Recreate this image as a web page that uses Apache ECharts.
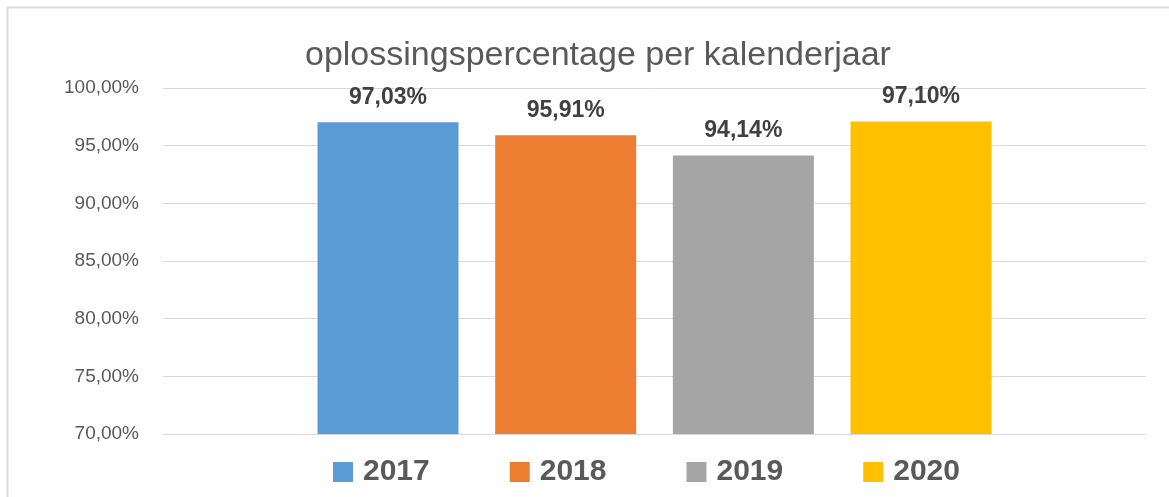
<!DOCTYPE html>
<html>
<head>
<meta charset="utf-8">
<script src="https://cdn.jsdelivr.net/npm/echarts@6/dist/echarts.min.js"></script>
<style>
  html, body { margin: 0; padding: 0; background: #fff; }
  #chart { width: 1169px; height: 497px; }
</style>
</head>
<body>
<div id="chart"></div>
<script>
// jaren en oplossingspercentages
var years = ['2017', '2018', '2019', '2020'];
var values = [97.03, 95.91, 94.14, 97.10];
var colors = ['#5b9bd5', '#ed7d31', '#a5a5a5', '#ffc000'];
var yTicks = { min: 70, max: 100, step: 5 };

function fmt(v) {
   return v.toFixed(2).replace('.', ',') + '%';
}

var series = [];
for (var i = 0; i < years.length; i++) {
   series.push({
      name: years[i],
      type: 'bar',
      barWidth: 141,
      barGap: '26%',
      itemStyle: { color: colors[i] },
      label: {
         show: true,
         position: 'top',
         distance: 13,
         fontFamily: 'Liberation Sans',
         fontWeight: 'bold',
         fontSize: 23,
         color: '#404040',
         formatter: function (p) { return fmt(p.value); }
      },
      data: [values[i]]
   });
}

var chart = echarts.init(document.getElementById('chart'));
chart.setOption({
   animation: false,
   graphic: [{
      type: 'rect',
      left: 5, top: 5,
      shape: { width: 1250, height: 600 },
      style: { fill: 'none', stroke: '#d9d9d9', lineWidth: 2 },
      silent: true
   }],
   title: {
      text: 'oplossingspercentage per kalenderjaar',
      left: 300,
      top: 34,
      textStyle: {
         fontFamily: 'Liberation Sans',
         fontWeight: 'normal',
         fontSize: 34,
         color: '#595959'
      }
   },
   legend: {
      data: years,
      left: 328,
      top: 452,
      itemWidth: 20,
      itemHeight: 20,
      itemGap: 80,
      icon: 'rect',
      textStyle: {
         fontFamily: 'Liberation Sans',
         fontWeight: 'bold',
         fontSize: 30,
         color: '#595959',
         padding: [0, 0, 0, 5]
      }
   },
   grid: { left: 163, right: 23, top: 88, bottom: 63 },
   xAxis: {
      type: 'category',
      data: [''],
      axisLine: { show: true, lineStyle: { color: '#d9d9d9', width: 1 } },
      axisTick: { show: false },
      axisLabel: { show: false }
   },
   yAxis: {
      type: 'value',
      min: yTicks.min,
      max: yTicks.max,
      interval: yTicks.step,
      axisLine: { show: false },
      axisTick: { show: false },
      splitLine: { lineStyle: { color: '#d9d9d9', width: 1 } },
      axisLabel: {
         margin: 24,
         fontFamily: 'Liberation Sans',
         fontSize: 19,
         color: '#595959',
         formatter: function (v) { return fmt(v); }
      }
   },
   series: series
});
</script>
</body>
</html>
